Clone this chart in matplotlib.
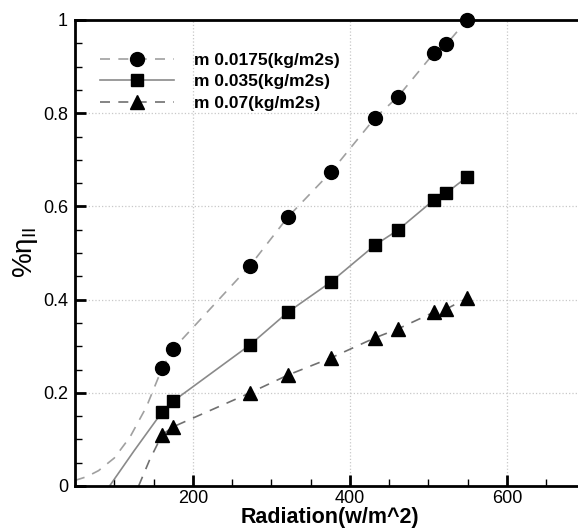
import matplotlib
matplotlib.use("Agg")
import matplotlib.pyplot as plt
from matplotlib.ticker import MultipleLocator

plt.rcParams['font.family'] = ['Liberation Sans', 'DejaVu Sans']
plt.rcParams['mathtext.fontset'] = 'custom'
plt.rcParams['mathtext.rm'] = 'Liberation Sans'
plt.rcParams['mathtext.it'] = 'Liberation Sans:italic'

# Data
radiation = [161, 175, 273, 321, 376, 432, 461, 507, 523, 549]
eff_00175 = [0.253, 0.294, 0.473, 0.577, 0.674, 0.790, 0.835, 0.929, 0.948, 1.000]
eff_0035 = [0.159, 0.182, 0.303, 0.373, 0.438, 0.517, 0.549, 0.614, 0.629, 0.663]
eff_007 = [0.110, 0.127, 0.200, 0.238, 0.275, 0.318, 0.337, 0.373, 0.380, 0.403]

tail_x_00175 = [50, 65, 80, 100, 120, 141]
tail_y_00175 = [0.012, 0.020, 0.033, 0.060, 0.105, 0.170]
tail_x_0035 = [94, 125]
tail_y_0035 = [0.000, 0.075]
tail_x_007 = [131, 145]
tail_y_007 = [0.000, 0.056]

labels = ['m 0.0175(kg/m2s)', 'm 0.035(kg/m2s)', 'm 0.07(kg/m2s)']

fig = plt.figure(figsize=(5.78, 5.30), dpi=100)
ax = fig.add_axes([75/578, 44/530, 510.5/578, 466/530])

c1, c2, c3 = '#a0a0a0', '#8a8a8a', '#707070'

ax.plot(tail_x_00175 + radiation, tail_y_00175 + eff_00175, ls=(0, (6, 5)), color=c1, lw=1.2, clip_on=False)
ax.plot(tail_x_0035 + radiation, tail_y_0035 + eff_0035, ls='-', color=c2, lw=1.2)
ax.plot(tail_x_007 + radiation, tail_y_007 + eff_007, ls=(0, (6, 5)), color=c3, lw=1.2)

ax.plot(radiation, eff_00175, 'o', color='black', ms=10, clip_on=False, zorder=5)
ax.plot(radiation, eff_0035, 's', color='black', ms=9, clip_on=False, zorder=5)
ax.plot(radiation, eff_007, '^', color='black', ms=9.5, clip_on=False, zorder=5)

# legend handles
h1, = ax.plot([], [], ls=(0, (6, 5)), color=c1, lw=1.2, marker='o', ms=10, mfc='black', mec='black')
h2, = ax.plot([], [], ls='-', color=c2, lw=1.2, marker='s', ms=9, mfc='black', mec='black')
h3, = ax.plot([], [], ls=(0, (6, 5)), color=c3, lw=1.2, marker='^', ms=9.5, mfc='black', mec='black')
leg = ax.legend([h1, h2, h3], labels, loc='upper left', bbox_to_anchor=(0.035, 0.945),
                frameon=False, handlelength=4.3, handletextpad=1.1, labelspacing=0.38,
                numpoints=1, prop={'weight': 'bold', 'size': 12.5}, borderaxespad=0)

ax.set_xlim(50, 700)
ax.set_ylim(0, 1)
ax.xaxis.set_major_locator(MultipleLocator(200))
ax.xaxis.set_minor_locator(MultipleLocator(50))
ax.yaxis.set_major_locator(MultipleLocator(0.2))
ax.yaxis.set_minor_locator(MultipleLocator(0.05))
ax.set_yticks([0, 0.2, 0.4, 0.6, 0.8, 1.0])
ax.set_yticklabels(['0', '0.2', '0.4', '0.6', '0.8', '1'])
ax.set_xticks([200, 400, 600])

ax.tick_params(which='major', direction='in', length=8, width=2, labelsize=13, pad=5, top=False, right=False)
ax.tick_params(axis='x', which='major', pad=3)
ax.tick_params(which='minor', direction='in', length=5, width=1, top=False, right=False)
ax.grid(True, which='major', ls=':', color='#c8c8c8', lw=0.9)
ax.set_axisbelow(True)

for s in ax.spines.values():
    s.set_linewidth(2)

ax.set_xlabel('Radiation(w/m^2)', fontsize=15.5, fontweight='bold', labelpad=0)
ax.set_ylabel(r'%$\mathrm{\eta}_{\rm II}$', fontsize=20, labelpad=2)

fig.savefig('out.png', dpi=100)
